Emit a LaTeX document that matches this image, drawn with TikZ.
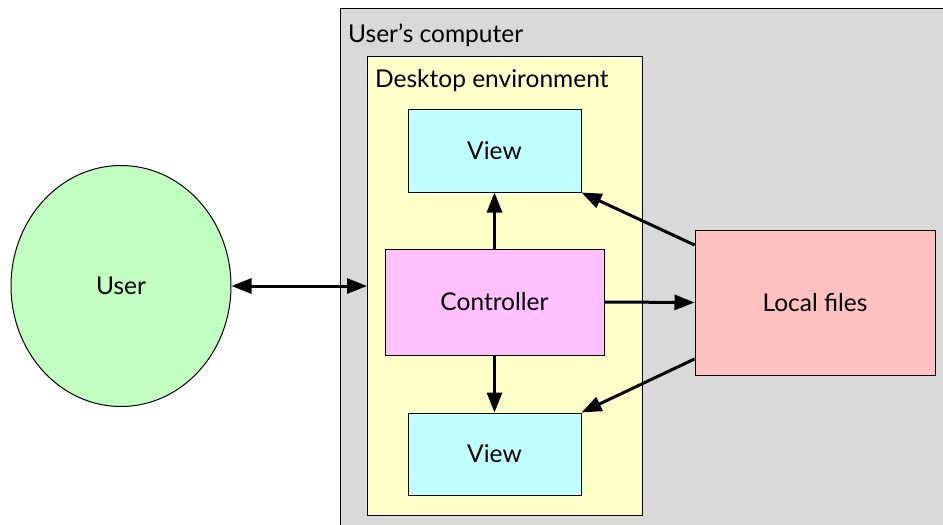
\documentclass[tikz,border=0pt]{standalone}
\usepackage{fontspec}
\setmainfont{Lato}
\usetikzlibrary{arrows.meta,shapes.geometric}
\definecolor{grayfill}{HTML}{D9D9D9}
\definecolor{yellowfill}{HTML}{FFFFC8}
\definecolor{cyanfill}{HTML}{C0FFFF}
\definecolor{pinkfill}{HTML}{FFC0FF}
\definecolor{salmonfill}{HTML}{FFC0C0}
\definecolor{greenfill}{HTML}{C0FFC0}
\tikzset{
  box/.style={draw=black, line width=1pt, inner sep=0pt, font=\fontsize{24.5}{28}\selectfont},
  conn/.style={line width=3pt, -{Triangle[length=20pt,width=15pt]}},
  biconn/.style={line width=3pt, {Triangle[length=20pt,width=15pt]}-{Triangle[length=20pt,width=15pt]}},
  lbl/.style={anchor=west, inner sep=0pt, font=\fontsize{24.5}{28}\selectfont}
}
\begin{document}
\begin{tikzpicture}[x=1pt,y=-1pt]
\useasboundingbox (0,0) rectangle (943,525);
\begin{scope}
\clip (0,0) rectangle (943,525);
\draw[fill=grayfill, line width=1pt] (340,8) rectangle (960,540);
\end{scope}
\node[lbl] (uc) at (348,35) {User’s computer};
\draw[fill=yellowfill, line width=1pt] (367,56) rectangle (642,515);
\coordinate (deskleft) at (367,286);
\node[lbl] (de) at (375,80.5) {Desktop environment};
\node[box, fill=cyanfill, minimum width=173pt, minimum height=83pt] (v1) at (494.5,150.5) {View};
\node[box, fill=pinkfill, minimum width=219pt, minimum height=106pt] (ctl) at (494.5,302) {Controller};
\node[box, fill=cyanfill, minimum width=173pt, minimum height=82pt] (v2) at (494.5,454) {View};
\node[box, fill=salmonfill, minimum width=240pt, minimum height=145pt] (lf) at (815,302.5) {Local files};
\node[box, ellipse, fill=greenfill, minimum width=220pt, minimum height=241pt] (user) at (121,286) {User};
\draw[biconn] (user.east |- deskleft) -- (deskleft);
\draw[conn] (ctl.north) -- (v1.south);
\draw[conn] (ctl.south) -- (v2.north);
\draw[conn] (ctl.east) -- (lf.west);
\draw[conn] (lf.west |- 0,245) -- (v1.south east);
\draw[conn] (lf.west |- 0,359) -- (v2.north east);
\end{tikzpicture}
\end{document}
